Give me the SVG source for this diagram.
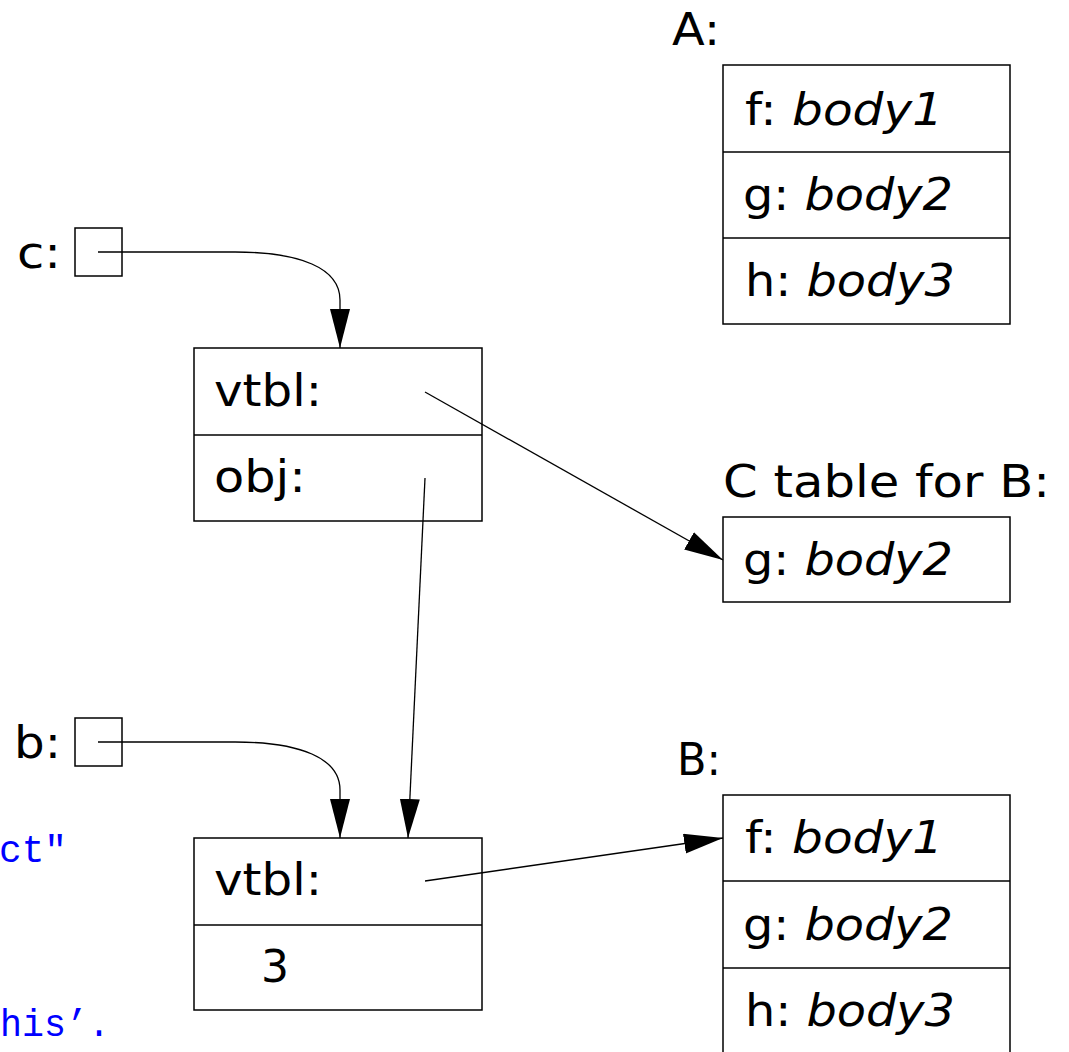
<svg xmlns="http://www.w3.org/2000/svg" width="1069" height="1052" viewBox="0 0 1069 1052">
<style>
  .box { fill: #ffffff; stroke: #000000; stroke-width: 1.5; }
  .div { stroke: #000000; stroke-width: 1.5; fill: none; }
  .lbl { font-family: "DejaVu Sans", "Liberation Sans", sans-serif; font-size: 44px; fill: #000000; }
  .it { font-style: italic; }
  .code { font-family: "Liberation Mono", "DejaVu Sans Mono", monospace; font-size: 39px; fill: #0000ff; }
  .conn { fill: none; stroke: #000000; stroke-width: 1.3; }
</style>
<defs>
  <marker id="arr" markerUnits="userSpaceOnUse" markerWidth="40" markerHeight="22" refX="39" refY="10" orient="auto">
    <path d="M0,0 L39,10 L0,20 Z" fill="#000000"/>
  </marker>
</defs>
<rect x="0" y="0" width="1069" height="1052" fill="#ffffff"/>

<g id="code-fragments">
  <text class="code" x="-1" y="862" textLength="68" lengthAdjust="spacingAndGlyphs">ct"</text>
  <text class="code" x="0" y="1036" textLength="110" lengthAdjust="spacingAndGlyphs">his’.</text>
</g>

<g id="tableA">
  <text class="lbl" x="672" y="45" textLength="48" lengthAdjust="spacingAndGlyphs">A:</text>
  <rect class="box" x="723" y="65" width="287" height="259"/>
  <line class="div" x1="723" y1="152" x2="1010" y2="152"/>
  <line class="div" x1="723" y1="238" x2="1010" y2="238"/>
  <text class="lbl" x="745" y="125" textLength="198" lengthAdjust="spacingAndGlyphs">f: <tspan class="it">body1</tspan></text>
  <text class="lbl" x="743" y="210" textLength="210" lengthAdjust="spacingAndGlyphs">g: <tspan class="it">body2</tspan></text>
  <text class="lbl" x="745" y="296" textLength="210" lengthAdjust="spacingAndGlyphs">h: <tspan class="it">body3</tspan></text>
</g>

<g id="varC">
  <text class="lbl" x="17" y="268" textLength="44" lengthAdjust="spacingAndGlyphs">c:</text>
  <rect class="box" x="75" y="228" width="47" height="48"/>
</g>

<g id="object1">
  <rect class="box" x="194" y="348" width="288" height="173"/>
  <line class="div" x1="194" y1="435" x2="482" y2="435"/>
  <text class="lbl" x="214" y="406" textLength="108" lengthAdjust="spacingAndGlyphs">vtbl:</text>
  <text class="lbl" x="214" y="492" textLength="92" lengthAdjust="spacingAndGlyphs">obj:</text>
</g>

<g id="tableCforB">
  <text class="lbl" x="723" y="497" textLength="327" lengthAdjust="spacingAndGlyphs">C table for B:</text>
  <rect class="box" x="723" y="517" width="287" height="85"/>
  <text class="lbl" x="743" y="575" textLength="210" lengthAdjust="spacingAndGlyphs">g: <tspan class="it">body2</tspan></text>
</g>

<g id="varB">
  <text class="lbl" x="14" y="758" textLength="47" lengthAdjust="spacingAndGlyphs">b:</text>
  <rect class="box" x="75" y="718" width="47" height="48"/>
</g>

<g id="object2">
  <rect class="box" x="194" y="838" width="288" height="172"/>
  <line class="div" x1="194" y1="925" x2="482" y2="925"/>
  <text class="lbl" x="214" y="895" textLength="108" lengthAdjust="spacingAndGlyphs">vtbl:</text>
  <text class="lbl" x="261" y="982">3</text>
</g>

<g id="tableB">
  <text class="lbl" x="677" y="775" textLength="44" lengthAdjust="spacingAndGlyphs">B:</text>
  <path class="div" d="M723,1054 L723,795 L1010,795 L1010,1054"/>
  <line class="div" x1="723" y1="881" x2="1010" y2="881"/>
  <line class="div" x1="723" y1="968" x2="1010" y2="968"/>
  <text class="lbl" x="745" y="853" textLength="198" lengthAdjust="spacingAndGlyphs">f: <tspan class="it">body1</tspan></text>
  <text class="lbl" x="743" y="940" textLength="210" lengthAdjust="spacingAndGlyphs">g: <tspan class="it">body2</tspan></text>
  <text class="lbl" x="745" y="1026" textLength="210" lengthAdjust="spacingAndGlyphs">h: <tspan class="it">body3</tspan></text>
</g>

<g id="connectors">
  <path class="conn" d="M98,252 L235,252 C300,252 340,268 340,300 L340,348" marker-end="url(#arr)"/>
  <path class="conn" d="M98,742 L235,742 C300,742 340,758 340,790 L340,838" marker-end="url(#arr)"/>
  <path class="conn" d="M425,478 L408,838" marker-end="url(#arr)"/>
  <path class="conn" d="M425,392 L723,560" marker-end="url(#arr)"/>
  <path class="conn" d="M425,881 L723,838" marker-end="url(#arr)"/>
</g>
</svg>
